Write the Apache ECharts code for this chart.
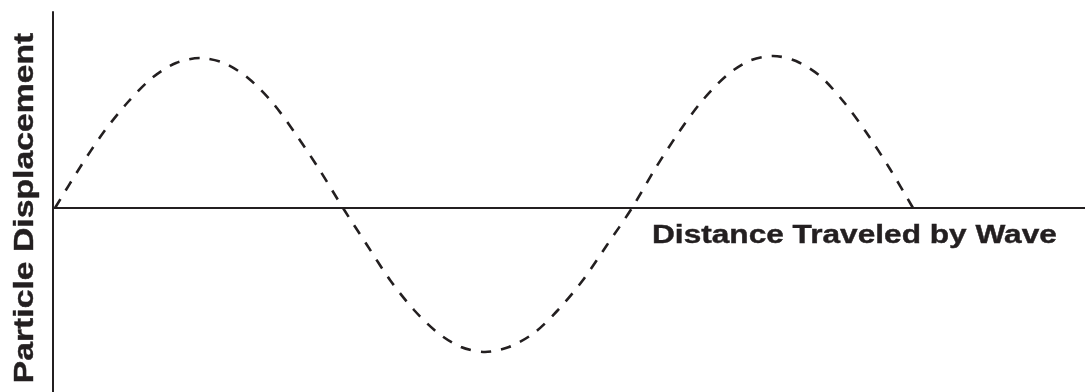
<!DOCTYPE html>
<html>
<head>
<meta charset="utf-8">
<script src="https://cdn.jsdelivr.net/npm/echarts@6/dist/echarts.min.js"></script>
<style>
  html, body { margin: 0; padding: 0; background: #fff; }
  #waveChart { width: 1085px; height: 392px; }
</style>
</head>
<body>
<div id="waveChart"></div>
<script>
// distance along the wave (px-like units from the wave start) and displacement
const distance = [
  0, 24, 48, 73, 97, 121, 145,
  169, 193, 217, 240, 264, 288,
  312, 335, 359, 383, 406, 430,
  454, 479, 503, 528, 552, 577,
  600, 624, 647, 671, 694, 718,
  741, 765, 788, 811, 835, 858,
];
const displacement = [
  0, 39, 75, 106, 130, 145, 150,
  145, 130, 106, 75, 39, 0,
  -37, -72, -102, -125, -139, -144,
  -139, -125, -102, -72, -37, 0,
  39, 76, 107, 132, 147, 152,
  147, 132, 107, 76, 39, 0,
];

const xName = "Distance Traveled by Wave";
const yName = "Particle Displacement";

const ink = "#231f20";

const waveChart = echarts.init(document.getElementById("waveChart"));

const option = {
  animation: false,
  backgroundColor: "#fff",
  grid: { left: 53, right: 0, top: 12, bottom: 0, containLabel: false },
  xAxis: {
    type: "value",
    min: -2,
    max: 1030,
    axisLine: { show: true, onZero: true, lineStyle: { color: ink, width: 2 } },
    axisTick: { show: false },
    axisLabel: { show: false },
    splitLine: { show: false },
  },
  yAxis: {
    type: "value",
    min: -184,
    max: 196,
    axisLine: { show: true, onZero: false, lineStyle: { color: ink, width: 2 } },
    axisTick: { show: false },
    axisLabel: { show: false },
    splitLine: { show: false },
  },
  // the labels in the picture are stretched sideways, so draw them as scaled text
  // (a thin stroke makes them as heavy as the original)
  graphic: [
    {
      type: "text",
      x: 652,
      y: 236,
      scaleX: 1.265,
      style: {
        text: xName,
        font: 'bold 25px "Liberation Sans", Arial, sans-serif',
        fill: ink,
        stroke: ink,
        lineWidth: 0.4,
        textAlign: "left",
        textVerticalAlign: "middle",
      },
    },
    {
      type: "text",
      x: 25,
      y: 208,
      rotation: Math.PI / 2,
      scaleX: 1.205,
      style: {
        text: yName,
        font: 'bold 28px "Liberation Sans", Arial, sans-serif',
        fill: ink,
        stroke: ink,
        lineWidth: 0.4,
        textAlign: "center",
        textVerticalAlign: "middle",
      },
    },
  ],
  series: [
    {
      type: "line",
      data: distance.map((d, i) => [d, displacement[i]]),
      smooth: 0.3,
      symbol: "none",
      lineStyle: { color: ink, width: 2.6, type: [10.5, 10] },
    },
  ],
};

waveChart.setOption(option);
</script>
</body>
</html>
